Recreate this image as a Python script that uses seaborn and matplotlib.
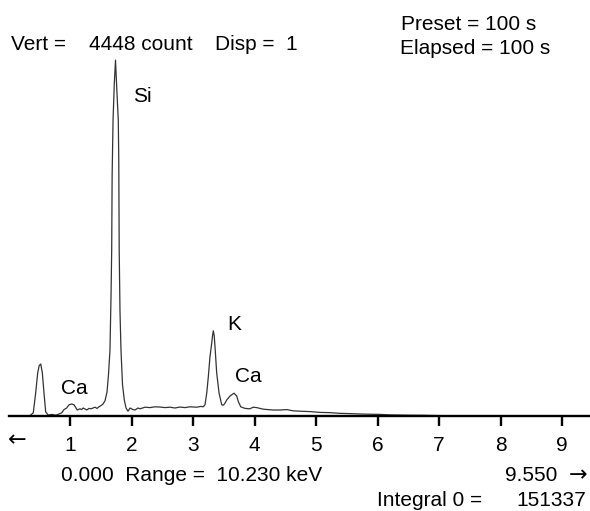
import matplotlib
matplotlib.use("Agg")
import matplotlib.pyplot as plt
import seaborn as sns
import pandas as pd

# ---- data (energy keV, counts) ----
energy_kev = [0.317, 0.350, 0.403, 0.442, 0.475, 0.499, 0.524, 0.550, 0.577, 0.605,
              0.647, 0.707, 0.772, 0.821, 0.865, 0.902, 0.946, 0.984, 1.028, 1.065,
              1.119, 1.163, 1.187, 1.216, 1.272, 1.309, 1.341, 1.374, 1.407, 1.439,
              1.472, 1.504, 1.537, 1.569, 1.602, 1.626, 1.650, 1.667, 1.678, 1.685,
              1.700, 1.720, 1.740, 1.760, 1.785, 1.793, 1.800, 1.813, 1.829, 1.854,
              1.883, 1.911, 1.943, 1.976, 2.024, 2.057, 2.106, 2.138, 2.220, 2.301,
              2.382, 2.463, 2.545, 2.626, 2.707, 2.789, 2.870, 2.951, 3.060, 3.130,
              3.167, 3.195, 3.224, 3.249, 3.276, 3.304, 3.317, 3.330, 3.345, 3.358,
              3.385, 3.423, 3.467, 3.493, 3.520, 3.548, 3.602, 3.667, 3.711, 3.737,
              3.776, 3.846, 3.927, 3.976, 4.036, 4.143, 4.220, 4.306, 4.415, 4.524,
              4.626, 4.740, 4.902, 5.065, 5.228, 5.390, 5.553, 5.715, 5.878, 6.041,
              6.203, 6.366, 6.528, 6.732, 6.854, 7.016, 7.390, 7.748, 8.317, 9.455]
counts = [0, 5, 40, 290, 540, 630, 650, 540, 290, 50,
          12, 20, 10, 25, 40, 80, 100, 140, 150, 140,
          75, 90, 80, 100, 75, 95, 90, 100, 110, 95,
          115, 130, 150, 190, 300, 520, 825, 1500, 2075, 3000,
          3700, 4150, 4448, 4100, 3700, 3200, 2075, 1300, 825, 390,
          200, 100, 60, 100, 80, 75, 100, 90, 110, 105,
          115, 112, 105, 110, 100, 112, 105, 115, 110, 120,
          115, 140, 290, 490, 740, 910, 1000, 1065, 1000, 865,
          540, 290, 140, 135, 160, 200, 250, 285, 250, 180,
          115, 95, 90, 110, 105, 85, 80, 75, 75, 80,
          65, 60, 55, 45, 42, 33, 30, 25, 22, 20,
          14, 12, 10, 9, 7, 5, 3, 2, 0, 0]

tick_values = [1, 2, 3, 4, 5, 6, 7, 8, 9]
tick_labels = ["1", "2", "3", "4", "5", "6", "7", "8", "9"]

peak_labels = ["Si", "Ca", "K", "Ca"]
peak_energy = [2.02, 0.85, 3.55, 3.69]
peak_counts = [3990, 345, 1140, 490]

header_left = ["Vert =", "4448 count", "Disp =  1"]
header_right = ["Preset = 100 s", "Elapsed = 100 s"]
footer = ["0.000  Range =  10.230 keV", "9.550", "Integral 0 =", "151337"]

df = pd.DataFrame({"energy": energy_kev, "counts": counts})

sns.set_theme(style="white")
plt.rcParams["font.family"] = ["Liberation Sans", "DejaVu Sans"]
plt.rcParams["text.color"] = "black"
plt.rcParams["xtick.color"] = "black"
plt.rcParams["xtick.labelcolor"] = "black"

W, H = 590, 511
fig = plt.figure(figsize=(W / 100, H / 100), dpi=100)
ax = fig.add_axes([0, 0, 1, 1])

px_per_kev = 61.5
x0_px = 8.5
base_px = 416
cnt_per_px = 12.5

sns.lineplot(data=df, x="energy", y="counts", ax=ax, color="#333333", linewidth=0.9)

ax.set_xlim(-x0_px / px_per_kev, (W - x0_px) / px_per_kev)
ax.set_ylim((base_px - H) * cnt_per_px, base_px * cnt_per_px)

for s in ["top", "left", "right"]:
    ax.spines[s].set_visible(False)
ax.spines["bottom"].set_position(("data", 0))
ax.spines["bottom"].set_bounds(0.0, 9.6)
ax.spines["bottom"].set_linewidth(1.7)
ax.spines["bottom"].set_color("black")
ax.set_xticks(tick_values)
ax.set_xticklabels(tick_labels)
ax.tick_params(axis="x", direction="out", length=7.5, width=1.7, colors="black",
               labelsize=15, pad=7, bottom=True)
ax.set_yticks([])
ax.set_xlabel("")
ax.set_ylabel("")

fs = 15
for lab, e, c in zip(peak_labels, peak_energy, peak_counts):
    ax.text(e, c, lab, fontsize=fs, ha="left", va="center", color="black")

def ftext(x, y, s, ha="left", size=fs, family=None):
    kw = {}
    if family:
        kw["family"] = family
    fig.text(x / W, 1 - y / H, s, fontsize=size, ha=ha, va="center", color="black", **kw)

ftext(11, 45, header_left[0])
ftext(89, 45, header_left[1])
ftext(298, 45, header_left[2], ha="right")
ftext(401, 24, header_right[0])
ftext(400, 48, header_right[1])
ftext(8, 440, "\u2190", size=16, family=["DejaVu Sans"])
ftext(61, 475, footer[0])
ftext(557, 475, footer[1], ha="right")
ftext(587, 475, "\u2192", ha="right", size=16, family=["DejaVu Sans"])
ftext(482, 500, footer[2], ha="right")
ftext(586, 500, footer[3], ha="right")

fig.savefig("out.png", dpi=100)
